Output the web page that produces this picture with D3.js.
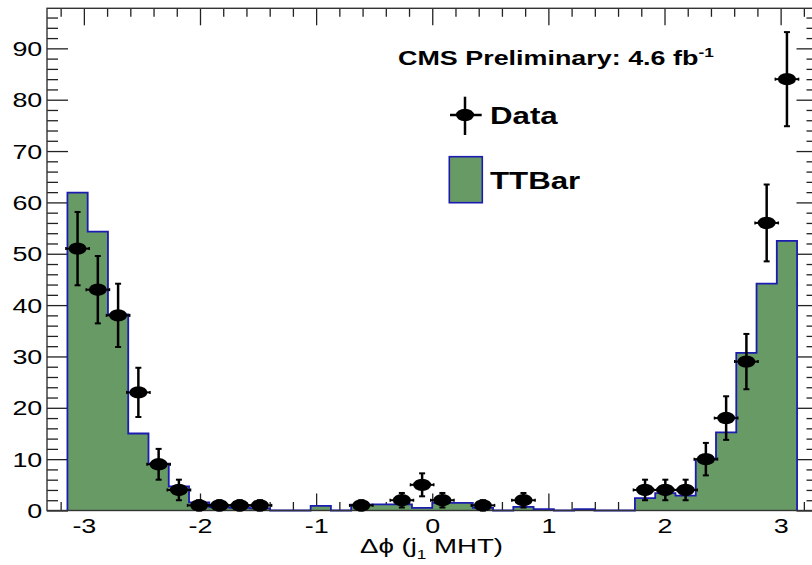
<!DOCTYPE html>
<html>
<head>
<meta charset="utf-8">
<script src="https://cdn.jsdelivr.net/npm/d3@7"></script>
<style>
  html, body { margin: 0; padding: 0; background: #fff; }
  svg { display: block; }
  text { font-family: "Liberation Sans", Arial, Helvetica, sans-serif; fill: #000; }
</style>
</head>
<body>
<script>
// Δϕ(j1, MHT) histogram: 36 bins over [-π, π]
const nBins = 36;
const binLow = -Math.PI;
const binHigh = Math.PI;

// TTBar simulation, content per bin
const ttbar = [61.9, 54.3, 38.2, 15.0, 9.1, 4.7, 1.6, 0.6, 0.5, 0.4, 0, 0,
               0.9, 0, 1.15, 1.2, 1.2, 0.5, 1.5, 1.5, 0.5, 0, 0.7, 0.25,
               0, 0.25, 0, 0, 2.4, 3.4, 2.9, 9.9, 15.2, 30.7, 44.2, 52.5];

// Observed events per bin
const dataCounts = [51, 43, 38, 23, 9, 4, 1, 1, 1, 1, 0, 0,
                    0, 0, 1, 0, 2, 5, 2, 0, 1, 0, 2, 0,
                    0, 0, 0, 0, 4, 4, 4, 10, 18, 29, 56, 84];

const xMajorTicks = [-3, -2, -1, 0, 1, 2, 3];
const yMajorTicks = [0, 10, 20, 30, 40, 50, 60, 70, 80, 90];

const W = 812, H = 565;
const frameL = 47, frameR = 817.5, frameT = 8.3, frameB = 510.5;
const sx = 1.38; // horizontal text stretch of the canvas

const svg = d3.select("body").append("svg").attr("width", W).attr("height", H);

const x = d3.scaleLinear().domain([-3.3175, 3.3175]).range([frameL, frameR]);
const y = d3.scaleLinear().domain([0, 97.8]).range([frameB, frameT]);

const binW = (binHigh - binLow) / nBins;
const bins = ttbar.map((v, i) => ({ x0: binLow + i * binW, x1: binLow + (i + 1) * binW, v }));

const xMinorTicks = d3.range(-16, 17).map(k => k * 0.2).filter(v => Math.abs(v - Math.round(v)) > 1e-6);
const yMinorTicks = d3.range(0, 97, 2).filter(v => v % 10 !== 0);

// ---- axes with inward ticks ----
const axisColor = "#222";
function styleAxis(g) {
  g.select(".domain").remove();
  g.selectAll(".tick line").attr("stroke", axisColor).attr("stroke-width", 1.3);
}

const gAxes = svg.append("g");
// bottom
gAxes.append("g").attr("transform", `translate(0,${frameB})`)
  .call(d3.axisBottom(x).tickValues(xMinorTicks).tickSize(-8.5).tickFormat(""))
  .call(styleAxis);
const gxb = gAxes.append("g").attr("transform", `translate(0,${frameB})`)
  .call(d3.axisBottom(x).tickValues(xMajorTicks).tickSize(-17).tickFormat(d3.format("d")))
  .call(styleAxis);
gxb.selectAll(".tick text")
  .attr("y", 0).attr("dy", 0)
  .attr("transform", `translate(0,22) scale(${sx},1)`)
  .attr("font-size", 19.5).attr("fill", "#000")
  .text(d => d < 0 ? "-" + Math.abs(d) : String(d));
// top
gAxes.append("g").attr("transform", `translate(0,${frameT})`)
  .call(d3.axisTop(x).tickValues(xMinorTicks).tickSize(-8.5).tickFormat(""))
  .call(styleAxis);
gAxes.append("g").attr("transform", `translate(0,${frameT})`)
  .call(d3.axisTop(x).tickValues(xMajorTicks).tickSize(-17).tickFormat(""))
  .call(styleAxis);
// left
gAxes.append("g").attr("transform", `translate(${frameL},0)`)
  .call(d3.axisLeft(y).tickValues(yMinorTicks).tickSize(-11).tickFormat(""))
  .call(styleAxis);
const gyl = gAxes.append("g").attr("transform", `translate(${frameL},0)`)
  .call(d3.axisLeft(y).tickValues(yMajorTicks).tickSize(-21).tickFormat(d3.format("d")))
  .call(styleAxis);
gyl.selectAll(".tick text")
  .attr("x", 0).attr("dy", 0)
  .attr("transform", `translate(-4.7,7) scale(${sx},1)`)
  .attr("text-anchor", "end")
  .attr("font-size", 19.5).attr("fill", "#000");
// right
gAxes.append("g").attr("transform", `translate(${frameR},0)`)
  .call(d3.axisRight(y).tickValues(yMinorTicks).tickSize(-11).tickFormat(""))
  .call(styleAxis);
gAxes.append("g").attr("transform", `translate(${frameR},0)`)
  .call(d3.axisRight(y).tickValues(yMajorTicks).tickSize(-21).tickFormat(""))
  .call(styleAxis);

// ---- TTBar histogram ----
const stepPts = [{ x: binLow, v: 0 }]
  .concat(bins.map(b => ({ x: b.x0, v: b.v })))
  .concat([{ x: binHigh, v: ttbar[nBins - 1] }, { x: binHigh, v: 0 }]);

const area = d3.area().curve(d3.curveStepAfter)
  .x(d => x(d.x)).y0(y(0)).y1(d => y(d.v));
const line = d3.line().curve(d3.curveStepAfter)
  .x(d => x(d.x)).y(d => y(d.v));

svg.append("path").datum(stepPts).attr("d", area).attr("fill", "#679a65");
svg.append("path").datum(stepPts).attr("d", line)
  .attr("fill", "none").attr("stroke", "#1c1cb0").attr("stroke-width", 1.8);

// ---- frame ----
svg.append("rect")
  .attr("x", frameL).attr("y", frameT)
  .attr("width", frameR - frameL).attr("height", frameB - frameT)
  .attr("fill", "none").attr("stroke", "#333").attr("stroke-width", 1.4);

// ---- data points with errors ----
const pts = dataCounts.map((n, i) => ({
  n, c: binLow + (i + 0.5) * binW, lo: binLow + i * binW, hi: binLow + (i + 1) * binW
})).filter(d => d.n > 0);

const gData = svg.append("g").attr("stroke", "#000");
const capW = 3;
pts.forEach(d => {
  const e = Math.sqrt(d.n);
  const cx = x(d.c), cy = y(d.n);
  const g = gData.append("g");
  // vertical error
  g.append("line").attr("x1", cx).attr("x2", cx)
    .attr("y1", y(d.n - e)).attr("y2", y(d.n + e)).attr("stroke-width", 2.5);
  g.append("line").attr("x1", cx - capW).attr("x2", cx + capW)
    .attr("y1", y(d.n + e)).attr("y2", y(d.n + e)).attr("stroke-width", 2);
  g.append("line").attr("x1", cx - capW).attr("x2", cx + capW)
    .attr("y1", y(d.n - e)).attr("y2", y(d.n - e)).attr("stroke-width", 2);
  // horizontal bin-width bar
  g.append("line").attr("x1", x(d.lo) - 1.5).attr("x2", x(d.hi) + 1.5)
    .attr("y1", cy).attr("y2", cy).attr("stroke-width", 2);
  g.append("line").attr("x1", x(d.lo) - 1.5).attr("x2", x(d.lo) - 1.5)
    .attr("y1", cy - 1.5).attr("y2", cy + 1.5).attr("stroke-width", 1.5);
  g.append("line").attr("x1", x(d.hi) + 1.5).attr("x2", x(d.hi) + 1.5)
    .attr("y1", cy - 1.5).attr("y2", cy + 1.5).attr("stroke-width", 1.5);
  g.append("ellipse").attr("cx", cx).attr("cy", cy)
    .attr("rx", 9).attr("ry", 6.2).attr("fill", "#000").attr("stroke", "none");
});

// ---- labels and legend ----
function stretchedText(px, py, opts) {
  return svg.append("text")
    .attr("transform", `translate(${px},${py}) scale(${opts.sx || sx},1)`)
    .attr("font-size", opts.size)
    .attr("font-weight", opts.bold ? "bold" : "normal")
    .attr("text-anchor", opts.anchor || "start");
}

// axis title
const xt = stretchedText(431.5, 553, { size: 20, anchor: "middle" });
xt.append("tspan").text("Δϕ (j");
xt.append("tspan").attr("font-size", 12.5).attr("dy", 6).text("1");
xt.append("tspan").attr("dy", -6).text(" MHT)");

// luminosity label
const cms = stretchedText(398, 65, { size: 19.5, bold: true });
cms.append("tspan").text("CMS Preliminary: 4.6 fb");
cms.append("tspan").attr("font-size", 12.5).attr("dy", -8).text("-1");

// legend: data
const lg = svg.append("g").attr("stroke", "#000");
lg.append("line").attr("x1", 465).attr("x2", 465).attr("y1", 96.7).attr("y2", 135).attr("stroke-width", 2.5);
lg.append("line").attr("x1", 450).attr("x2", 481.7).attr("y1", 115).attr("y2", 115).attr("stroke-width", 2.5);
lg.append("ellipse").attr("cx", 465).attr("cy", 115).attr("rx", 9).attr("ry", 6.2)
  .attr("fill", "#000").attr("stroke", "none");
stretchedText(490, 124, { size: 23.5, bold: true, sx: 1.33 }).text("Data");

// legend: TTBar
svg.append("rect").attr("x", 449.3).attr("y", 156.7).attr("width", 33).attr("height", 46)
  .attr("fill", "#679a65").attr("stroke", "#1c1cb0").attr("stroke-width", 1.6);
stretchedText(490, 189.3, { size: 23.5, bold: true, sx: 1.33 }).text("TTBar");
</script>
</body>
</html>
